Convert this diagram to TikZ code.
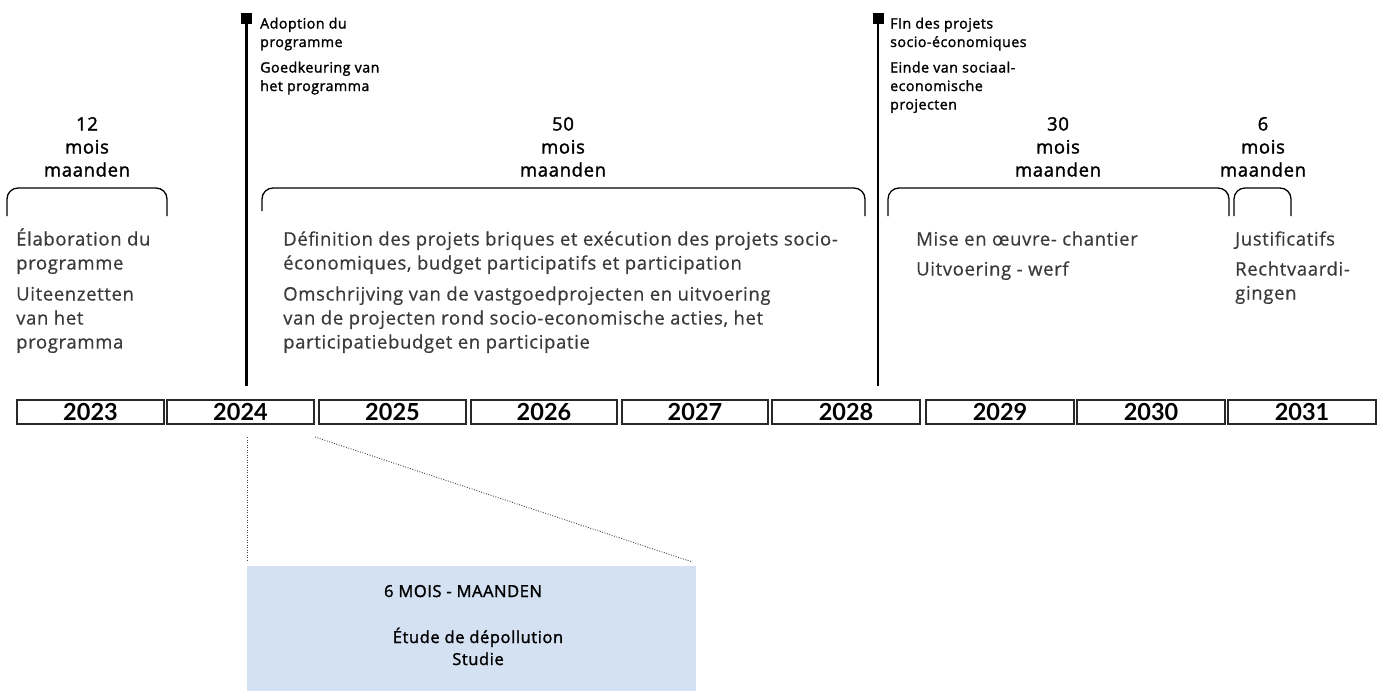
\documentclass[tikz,border=0pt]{standalone}
\usepackage{fontspec}
\setmainfont{Open Sans}[LetterSpace=3.5, FakeBold=0.6]
\newfontfamily\medfont{Open Sans}[LetterSpace=3.5, FakeBold=1.6]
\newfontfamily\yearfont{Lato}
\definecolor{bodygray}{RGB}{58,58,58}
\definecolor{boxblue}{RGB}{211,225,242}
\definecolor{framegray}{RGB}{40,40,40}
\newcommand{\blk}[2]{\begin{tabular}[t]{@{}#1@{}}#2\end{tabular}}
\begin{document}
\begin{tikzpicture}[x=1pt,y=-1pt,
  yearbox/.style={draw=framegray, line width=1.2pt, minimum height=24pt, inner sep=0pt,
    font=\yearfont\fontsize{23.5}{26}\selectfont\bfseries},
  marker/.style={fill=black, draw=none, minimum size=11pt, inner sep=0pt},
  milestone/.style={line width=2.6pt, black},
  smalllabel/.style={anchor=base west, inner sep=0pt, font=\medfont\fontsize{14.2}{18.5}\selectfont},
  duration/.style={anchor=base, inner sep=0pt, font=\medfont\fontsize{18.5}{23}\selectfont},
  bodytext/.style={anchor=base west, inner sep=0pt, text=bodygray, font=\fontsize{18.5}{24}\selectfont},
  bracketline/.style={line width=1.3pt, black, rounded corners=11pt},
  dotline/.style={line width=0.9pt, black!75, dash pattern=on 0.9pt off 1.6pt},
  studytext/.style={anchor=base, inner sep=0pt, font=\medfont\fontsize{16.5}{22}\selectfont}
]
\useasboundingbox (0,0) rectangle (1381,691);

% year boxes
\node[yearbox, minimum width=147pt] (y2023) at (90.5,412) {2023};
\node[yearbox, minimum width=147pt] (y2024) at (240.5,412) {2024};
\node[yearbox, minimum width=147pt] (y2025) at (392.5,412) {2025};
\node[yearbox, minimum width=146pt] (y2026) at (544,412) {2026};
\node[yearbox, minimum width=146pt] (y2027) at (695,412) {2027};
\node[yearbox, minimum width=148pt] (y2028) at (846,412) {2028};
\node[yearbox, minimum width=148pt] (y2029) at (1000,412) {2029};
\node[yearbox, minimum width=148pt] (y2030) at (1151,412) {2030};
\node[yearbox, minimum width=148pt] (y2031) at (1302,412) {2031};

% milestones
\node[marker] (m1) at (246.5,18.5) {};
\coordinate (e1) at (246.5,386);
\draw[milestone] (m1.center) -- (e1);
\node[marker] (m2) at (878,18.5) {};
\coordinate (e2) at (878,386);
\draw[milestone] (m2.center) -- (e2);

\node[smalllabel] (adopt) at (260,28.5) {\blk{l}{Adoption du\\programme\\[7pt]Goedkeuring van\\het programma}};
\node[smalllabel] (fin) at (890,28.5) {\blk{l}{FIn des projets\\socio-économiques\\[7pt]Einde van sociaal-\\economische\\projecten}};

% brackets
\coordinate (b1l) at (7,216);   \coordinate (b1r) at (167,216);
\draw[bracketline] (b1l) -- (7,188) -- (167,188) -- (b1r);
\coordinate (b2l) at (262,211); \coordinate (b2r) at (865,216);
\draw[bracketline] (b2l) -- (262,188) -- (865,188) -- (b2r);
\coordinate (b3l) at (888,216); \coordinate (b3r) at (1229,216);
\draw[bracketline] (b3l) -- (888,188) -- (1229,188) -- (b3r);
\coordinate (b4l) at (1234,216); \coordinate (b4r) at (1291,216);
\draw[bracketline] (b4l) -- (1234,188) -- (1291,188) -- (b4r);

% durations
\node[duration] (d12) at (87,130.5) {\blk{c}{12\\mois\\maanden}};
\node[duration] (d50) at (563,130.5) {\blk{c}{50\\mois\\maanden}};
\node[duration] (d30) at (1058,130.5) {\blk{c}{30\\mois\\maanden}};
\node[duration] (d6) at (1263,130.5) {\blk{c}{6\\mois\\maanden}};

% phase texts
\node[bodytext] (p1) at (16,245.5) {\blk{l}{Élaboration du\\programme\\[7pt]Uiteenzetten\\van het\\programma}};
\node[bodytext] (p2) at (283,245.5) {\blk{l}{Définition des projets briques et exécution des projets socio-\\économiques, budget participatifs et participation\\[7pt]Omschrijving van de vastgoedprojecten en uitvoering\\van de projecten rond socio-economische acties, het\\participatiebudget en participatie}};
\node[bodytext] (p3) at (916,245.5) {\blk{l}{Mise en œuvre- chantier\\[6pt]Uitvoering - werf}};
\node[bodytext] (p4) at (1235,245.5) {\blk{l}{Justificatifs\\[6pt]Rechtvaardi-\\gingen}};

% zoom box
\node[fill=boxblue, draw=none, minimum width=449pt, minimum height=125pt, inner sep=0pt, anchor=north west] (study) at (247,566) {};
\coordinate (c1) at (247,437);
\coordinate (c2) at (315,437);
\draw[dotline] (c1) -- ([yshift=4pt]study.north west);
\draw[dotline] (c2) -- ([xshift=-4pt,yshift=4pt]study.north east);
\node[studytext] (s1) at (463,597) {6 MOIS - MAANDEN};
\node[studytext] (s2) at (478,643) {\blk{c}{Étude de dépollution\\Studie}};
\end{tikzpicture}
\end{document}
